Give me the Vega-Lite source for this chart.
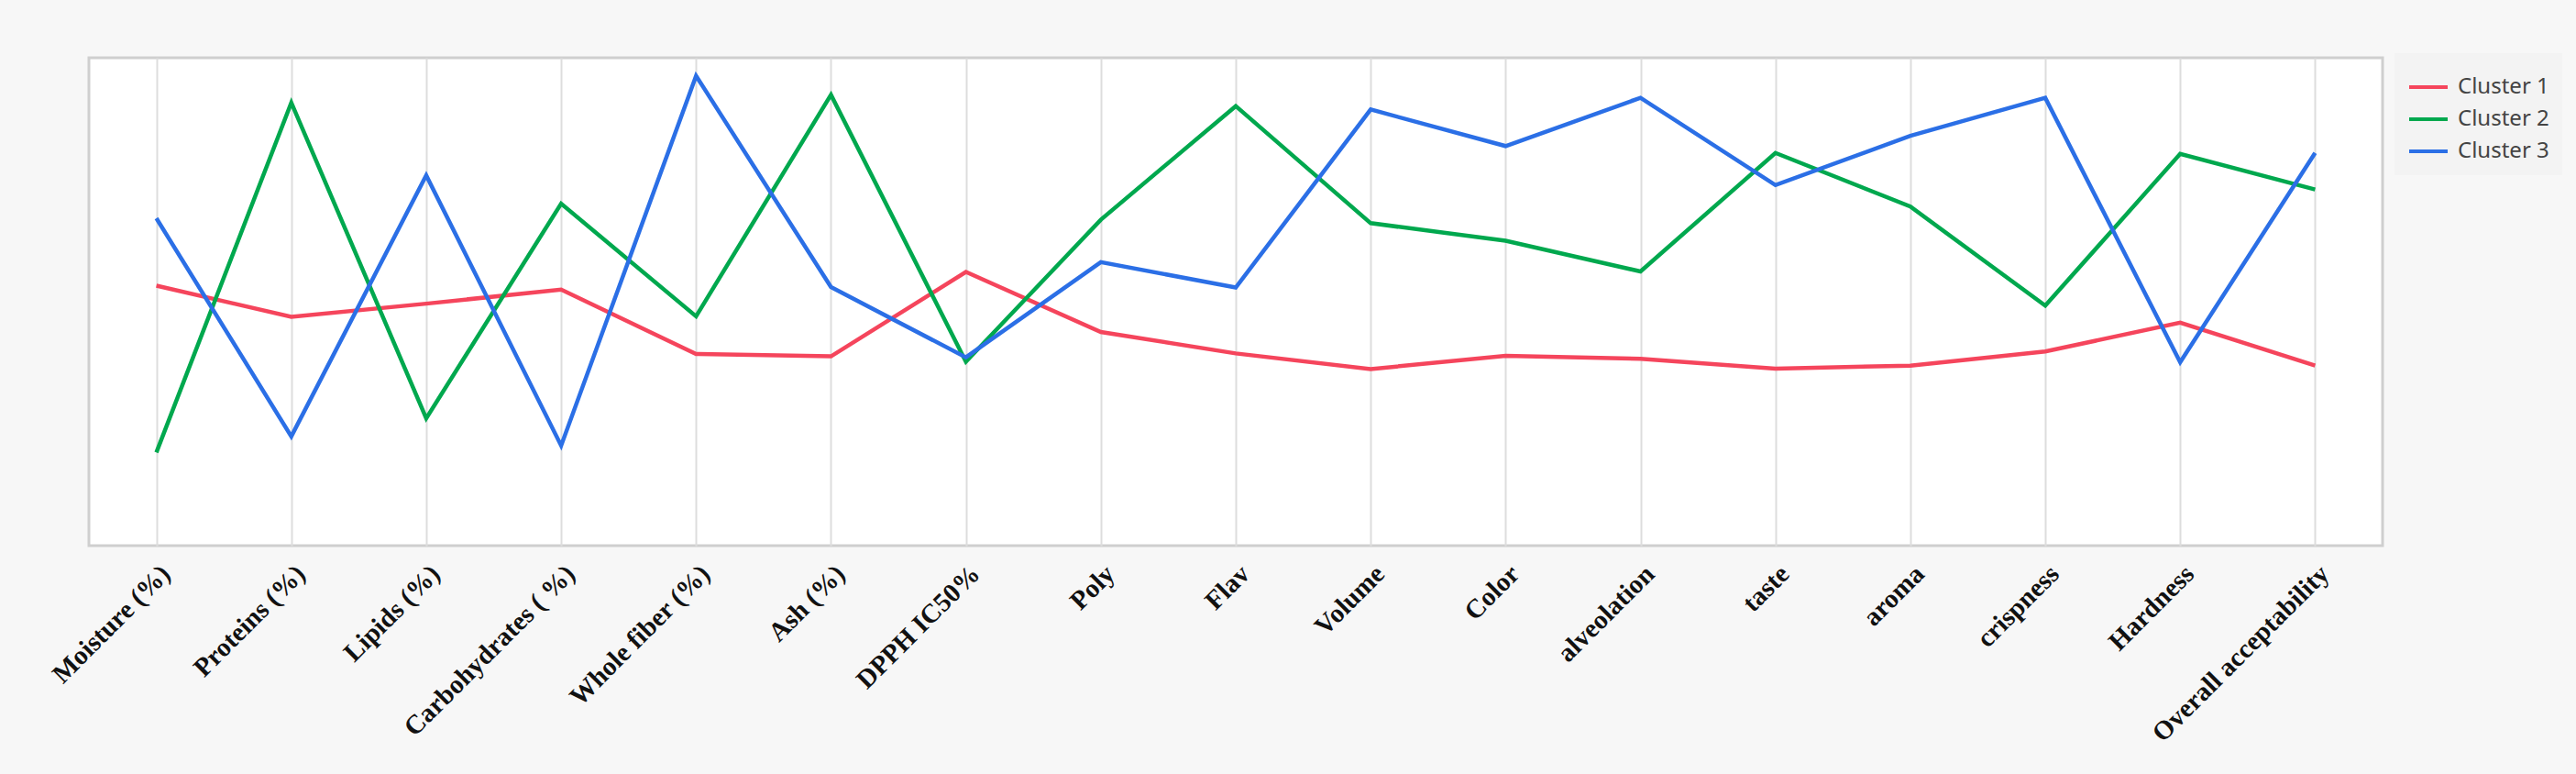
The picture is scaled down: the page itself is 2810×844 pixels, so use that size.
{
  "$schema": "https://vega.github.io/schema/vega-lite/v6.json",
  "width": 2502,
  "height": 532,
  "autosize": {"type": "none"},
  "padding": {"left": 97, "top": 63, "right": 211, "bottom": 249},
  "background": "#f7f7f7",
  "config": {
    "view": {"fill": "white", "stroke": "#cfcfcf", "strokeWidth": 3}
  },
  "data": {
    "values": [
      {"param": "Moisture (%)", "cluster": "Cluster 1", "value": 53.3},
      {"param": "Proteins (%)", "cluster": "Cluster 1", "value": 46.9},
      {"param": "Lipids  (%)", "cluster": "Cluster 1", "value": 49.6},
      {"param": "Carbohydrates ( %)", "cluster": "Cluster 1", "value": 52.5},
      {"param": "Whole fiber  (%)", "cluster": "Cluster 1", "value": 39.3},
      {"param": "Ash (%)", "cluster": "Cluster 1", "value": 38.8},
      {"param": "DPPH IC50%", "cluster": "Cluster 1", "value": 56.1},
      {"param": "Poly", "cluster": "Cluster 1", "value": 43.8},
      {"param": "Flav", "cluster": "Cluster 1", "value": 39.4},
      {"param": "Volume", "cluster": "Cluster 1", "value": 36.2},
      {"param": "Color", "cluster": "Cluster 1", "value": 38.9},
      {"param": "alveolation", "cluster": "Cluster 1", "value": 38.3},
      {"param": "taste", "cluster": "Cluster 1", "value": 36.3},
      {"param": "aroma", "cluster": "Cluster 1", "value": 36.9},
      {"param": "crispness", "cluster": "Cluster 1", "value": 39.8},
      {"param": "Hardness", "cluster": "Cluster 1", "value": 45.7},
      {"param": "Overall acceptability", "cluster": "Cluster 1", "value": 36.9},
      {"param": "Moisture (%)", "cluster": "Cluster 2", "value": 19.1},
      {"param": "Proteins (%)", "cluster": "Cluster 2", "value": 90.8},
      {"param": "Lipids  (%)", "cluster": "Cluster 2", "value": 26.1},
      {"param": "Carbohydrates ( %)", "cluster": "Cluster 2", "value": 70.1},
      {"param": "Whole fiber  (%)", "cluster": "Cluster 2", "value": 47.0},
      {"param": "Ash (%)", "cluster": "Cluster 2", "value": 92.4},
      {"param": "DPPH IC50%", "cluster": "Cluster 2", "value": 37.7},
      {"param": "Poly", "cluster": "Cluster 2", "value": 66.8},
      {"param": "Flav", "cluster": "Cluster 2", "value": 90.1},
      {"param": "Volume", "cluster": "Cluster 2", "value": 66.1},
      {"param": "Color", "cluster": "Cluster 2", "value": 62.5},
      {"param": "alveolation", "cluster": "Cluster 2", "value": 56.2},
      {"param": "taste", "cluster": "Cluster 2", "value": 80.5},
      {"param": "aroma", "cluster": "Cluster 2", "value": 69.5},
      {"param": "crispness", "cluster": "Cluster 2", "value": 49.2},
      {"param": "Hardness", "cluster": "Cluster 2", "value": 80.3},
      {"param": "Overall acceptability", "cluster": "Cluster 2", "value": 73.0},
      {"param": "Moisture (%)", "cluster": "Cluster 3", "value": 67.1},
      {"param": "Proteins (%)", "cluster": "Cluster 3", "value": 22.4},
      {"param": "Lipids  (%)", "cluster": "Cluster 3", "value": 75.9},
      {"param": "Carbohydrates ( %)", "cluster": "Cluster 3", "value": 20.5},
      {"param": "Whole fiber  (%)", "cluster": "Cluster 3", "value": 96.3},
      {"param": "Ash (%)", "cluster": "Cluster 3", "value": 53.0},
      {"param": "DPPH IC50%", "cluster": "Cluster 3", "value": 38.6},
      {"param": "Poly", "cluster": "Cluster 3", "value": 58.1},
      {"param": "Flav", "cluster": "Cluster 3", "value": 52.9},
      {"param": "Volume", "cluster": "Cluster 3", "value": 89.4},
      {"param": "Color", "cluster": "Cluster 3", "value": 81.9},
      {"param": "alveolation", "cluster": "Cluster 3", "value": 91.8},
      {"param": "taste", "cluster": "Cluster 3", "value": 73.9},
      {"param": "aroma", "cluster": "Cluster 3", "value": 84.0},
      {"param": "crispness", "cluster": "Cluster 3", "value": 91.8},
      {"param": "Hardness", "cluster": "Cluster 3", "value": 37.6},
      {"param": "Overall acceptability", "cluster": "Cluster 3", "value": 80.5}
    ]
  },
  "mark": {"type": "line", "strokeWidth": 4.5, "interpolate": "linear"},
  "encoding": {
    "x": {
      "field": "param",
      "type": "nominal",
      "sort": null,
      "scale": {"type": "point", "padding": 0.5},
      "axis": {
        "title": null,
        "domain": false,
        "ticks": false,
        "grid": true,
        "gridColor": "#dddddd",
        "gridWidth": 2,
        "labelAngle": -45,
        "labelAlign": "right",
        "labelBaseline": "top",
        "labelPadding": 16,
        "labelFont": "Liberation Serif",
        "labelFontWeight": "bold",
        "labelFontSize": 29,
        "labelColor": "#111111",
        "labelLimit": 500,
        "labelOverlap": false,
        "labelBound": false
      }
    },
    "y": {
      "field": "value",
      "type": "quantitative",
      "scale": {"domain": [0, 100], "nice": false, "zero": false},
      "axis": null
    },
    "color": {
      "field": "cluster",
      "type": "nominal",
      "scale": {
        "domain": ["Cluster 1", "Cluster 2", "Cluster 3"],
        "range": ["#f5455c", "#00a84e", "#2b6fe6"]
      },
      "legend": {
        "title": null,
        "orient": "none",
        "legendX": 2515,
        "legendY": -5,
        "symbolType": "stroke",
        "symbolSize": 1764,
        "symbolStrokeWidth": 4,
        "labelFont": "Noto Sans",
        "labelFontSize": 24,
        "labelColor": "#444444",
        "labelOffset": 9,
        "rowPadding": -5,
        "padding": 14,
        "fillColor": "#f3f3f3"
      }
    }
  }
}
